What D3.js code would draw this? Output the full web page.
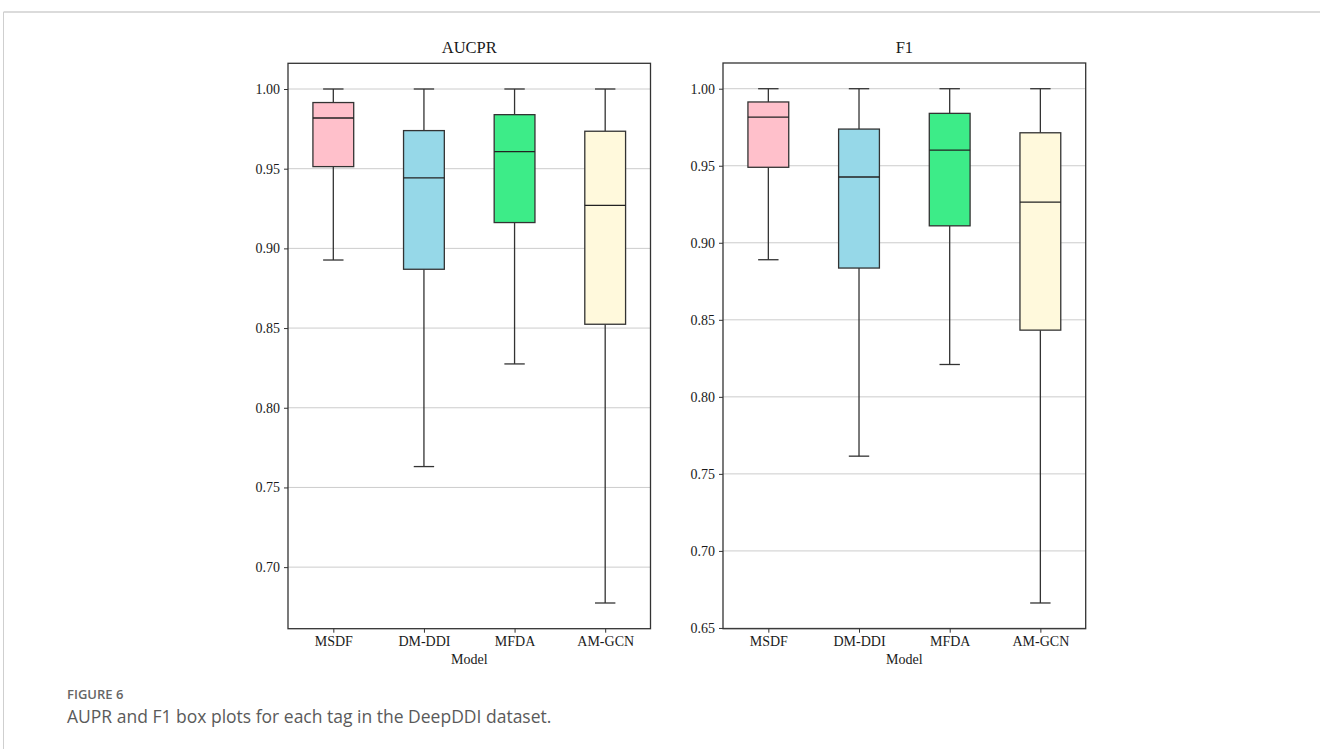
<!DOCTYPE html>
<html>
<head>
<meta charset="utf-8">
<script src="https://cdn.jsdelivr.net/npm/d3@7"></script>
<style>
  body { margin: 0; background: #fff; }
  svg { display: block; }
</style>
</head>
<body>
<svg id="chart" width="1320" height="749"></svg>
<script>
const models = ["MSDF", "DM-DDI", "MFDA", "AM-GCN"];
const boxColors = ["#FFC0CB", "#96D8E8", "#3DEC88", "#FFF9DC"];

// AUCPR box stats, one value per model
const aucprLow = [0.8927, 0.7631, 0.8275, 0.6775];
const aucprQ1 = [0.9513, 0.8869, 0.9162, 0.8524];
const aucprMed = [0.9818, 0.9442, 0.9607, 0.9270];
const aucprQ3 = [0.9915, 0.9739, 0.9839, 0.9735];
const aucprHigh = [1.0, 1.0, 1.0, 1.0];
const aucprTicks = [0.70, 0.75, 0.80, 0.85, 0.90, 0.95, 1.00];

// F1 box stats
const f1Low = [0.8890, 0.7615, 0.8210, 0.6662];
const f1Q1 = [0.9490, 0.8836, 0.9110, 0.8433];
const f1Med = [0.9816, 0.9427, 0.9602, 0.9264];
const f1Q3 = [0.9914, 0.9738, 0.9840, 0.9714];
const f1High = [1.0, 1.0, 1.0, 1.0];
const f1Ticks = [0.65, 0.70, 0.75, 0.80, 0.85, 0.90, 0.95, 1.00];

const svg = d3.select("#chart");
const serif = "'Liberation Serif', 'Times New Roman', serif";

// page frame lines
svg.append("line").attr("x1", 3.5).attr("x2", 1320).attr("y1", 12).attr("y2", 12)
  .attr("stroke", "#cfcfcf").attr("stroke-width", 1.5);
svg.append("line").attr("x1", 3.5).attr("x2", 3.5).attr("y1", 12).attr("y2", 749)
  .attr("stroke", "#cfcfcf").attr("stroke-width", 1);

const drawPanel = (opts) => {
  const { left, right, top, bottom, title, low, q1, med, q3, high, ticks } = opts;

  const rows = models.map((m, i) => ({
    model: m, color: boxColors[i],
    low: low[i], q1: q1[i], med: med[i], q3: q3[i], high: high[i]
  }));

  // matplotlib-style 5% margins
  const lo = d3.min(low), hi = d3.max(high);
  const pad = (hi - lo) * 0.05;
  const y = d3.scaleLinear().domain([lo - pad, hi + pad]).range([bottom, top]);
  const x = d3.scalePoint().domain(models).range([left, right]).padding(0.5);
  const step = x.step();
  const boxW = step * 0.45;
  const capW = boxW / 2;

  const g = svg.append("g");

  // grid
  g.append("g").selectAll("line").data(ticks).join("line")
    .attr("x1", left).attr("x2", right)
    .attr("y1", d => y(d)).attr("y2", d => y(d))
    .attr("stroke", "#cccccc").attr("stroke-width", 1);

  // y axis
  const yAxis = d3.axisLeft(y).tickValues(ticks).tickFormat(d3.format(".2f"))
    .tickSize(4).tickPadding(4);
  g.append("g").attr("transform", `translate(${left},0)`).call(yAxis)
    .call(a => a.select(".domain").remove())
    .call(a => a.selectAll("line").attr("stroke", "#333"))
    .selectAll("text").attr("font-family", serif).attr("font-size", 14).attr("fill", "#1a1a1a");

  // x axis
  const xAxis = d3.axisBottom(x).tickSize(4).tickPadding(3);
  g.append("g").attr("transform", `translate(0,${bottom})`).call(xAxis)
    .call(a => a.select(".domain").remove())
    .call(a => a.selectAll("line").attr("stroke", "#333"))
    .selectAll("text").attr("font-family", serif).attr("font-size", 14).attr("fill", "#1a1a1a");

  const boxes = g.append("g").selectAll("g").data(rows).join("g")
    .attr("transform", d => `translate(${x(d.model)},0)`);

  // whiskers
  boxes.append("line").attr("x1", 0).attr("x2", 0)
    .attr("y1", d => y(d.q3)).attr("y2", d => y(d.high))
    .attr("stroke", "#333").attr("stroke-width", 1.3);
  boxes.append("line").attr("x1", 0).attr("x2", 0)
    .attr("y1", d => y(d.q1)).attr("y2", d => y(d.low))
    .attr("stroke", "#333").attr("stroke-width", 1.3);
  // caps
  boxes.append("line").attr("x1", -capW / 2).attr("x2", capW / 2)
    .attr("y1", d => y(d.high)).attr("y2", d => y(d.high))
    .attr("stroke", "#333").attr("stroke-width", 1.3);
  boxes.append("line").attr("x1", -capW / 2).attr("x2", capW / 2)
    .attr("y1", d => y(d.low)).attr("y2", d => y(d.low))
    .attr("stroke", "#333").attr("stroke-width", 1.3);
  // box
  boxes.append("rect").attr("x", -boxW / 2).attr("width", boxW)
    .attr("y", d => y(d.q3)).attr("height", d => y(d.q1) - y(d.q3))
    .attr("fill", d => d.color).attr("stroke", "#333").attr("stroke-width", 1.3);
  // median
  boxes.append("line").attr("x1", -boxW / 2).attr("x2", boxW / 2)
    .attr("y1", d => y(d.med)).attr("y2", d => y(d.med))
    .attr("stroke", "#222").attr("stroke-width", 1.3);

  // frame
  g.append("rect").attr("x", left).attr("y", top)
    .attr("width", right - left).attr("height", bottom - top)
    .attr("fill", "none").attr("stroke", "#333").attr("stroke-width", 1.3);

  g.append("text").attr("x", (left + right) / 2).attr("y", top - 10)
    .attr("text-anchor", "middle").attr("font-family", serif).attr("font-size", 16.5)
    .attr("fill", "#1a1a1a").text(title);

  g.append("text").attr("x", (left + right) / 2).attr("y", bottom + 35)
    .attr("text-anchor", "middle").attr("font-family", serif).attr("font-size", 14)
    .attr("fill", "#1a1a1a").text("Model");
};

drawPanel({
  left: 288, right: 650.5, top: 63.3, bottom: 628.7, title: "AUCPR",
  low: aucprLow, q1: aucprQ1, med: aucprMed, q3: aucprQ3, high: aucprHigh, ticks: aucprTicks
});
drawPanel({
  left: 723, right: 1085.7, top: 63, bottom: 628.7, title: "F1",
  low: f1Low, q1: f1Q1, med: f1Med, q3: f1Q3, high: f1High, ticks: f1Ticks
});

// caption
svg.append("text").attr("x", 67).attr("y", 699)
  .attr("font-family", "'Open Sans', 'Noto Sans', sans-serif").attr("font-size", 13)
  .attr("font-weight", 600).attr("fill", "#666").text("FIGURE 6");
svg.append("text").attr("x", 67).attr("y", 723)
  .attr("font-family", "'Open Sans', 'Noto Sans', sans-serif").attr("font-size", 17.5)
  .attr("fill", "#5a5a5a").text("AUPR and F1 box plots for each tag in the DeepDDI dataset.");
</script>
</body>
</html>
